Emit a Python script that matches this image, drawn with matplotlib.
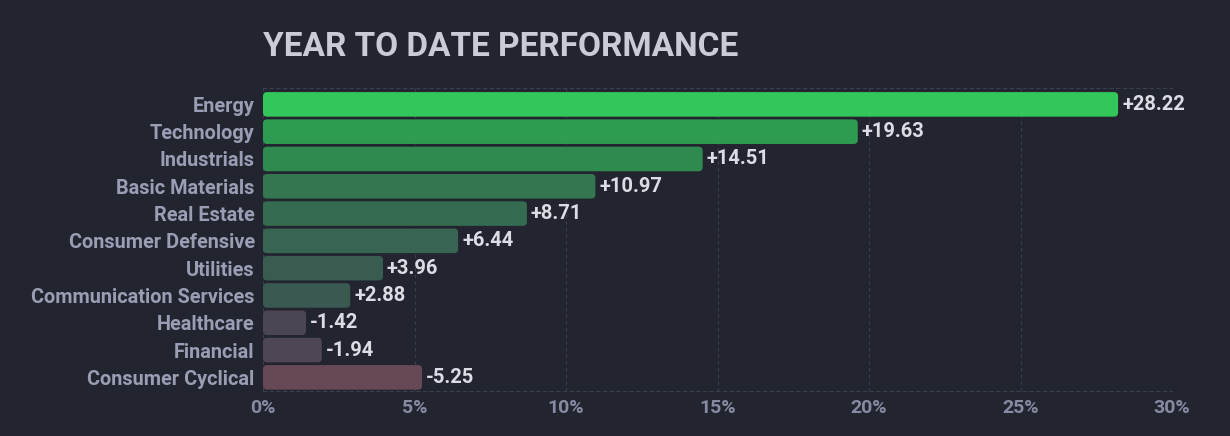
import numpy as np
import matplotlib
matplotlib.use("Agg")
import matplotlib.pyplot as plt
from matplotlib.patches import FancyBboxPatch

# Data ---------------------------------------------
sectors = ["Energy", "Technology", "Industrials", "Basic Materials", "Real Estate",
           "Consumer Defensive", "Utilities", "Communication Services",
           "Healthcare", "Financial", "Consumer Cyclical"]
ytd = [28.22, 19.63, 14.51, 10.97, 8.71, 6.44, 3.96, 2.88, -1.42, -1.94, -5.25]
bar_colors = ["#33c65a", "#2e9c50", "#2f8a4f", "#337650", "#356c51", "#386552",
              "#395c51", "#3a5a51", "#4c4552", "#4f4654", "#664857"]
xticks = [0, 5, 10, 15, 20, 25, 30]

# Style --------------------------------------------
bg = "#22252f"
grid_c = "#3b3f4d"
label_c = "#9a9db4"
value_c = "#dcdde4"
font = "Roboto"

fig = plt.figure(figsize=(12.3, 4.36), dpi=100, facecolor=bg)
ax = fig.add_axes([263/1230, 45/436, 909/1230, 303/436], facecolor=bg)

# Bars (rounded, length = absolute change) ---------
ypos = np.arange(len(sectors))
h = 0.9
for y, v, c in zip(ypos, ytd, bar_colors):
    w = abs(v)
    p = FancyBboxPatch((0, y - h/2), w, h,
                       boxstyle="round,pad=0,rounding_size=0.14",
                       mutation_aspect=1.05, fc=c, ec="none", zorder=3)
    ax.add_patch(p)
    ax.text(w + 0.13, y, f"{v:+.2f}", va="center", ha="left", color=value_c,
            fontsize=14.5, fontweight="bold", family=font, zorder=4)

# Axes ---------------------------------------------
ax.set_xlim(0, 30)
ax.set_ylim(10.5, -0.6)
ax.set_xticks(xticks)
ax.set_xticklabels([f"{t}%" for t in xticks])
ax.set_yticks(ypos)
ax.set_yticklabels(sectors)

for lab in ax.get_yticklabels():
    lab.set(color=label_c, fontsize=14.3, fontweight="bold", family=font)
for lab in ax.get_xticklabels():
    lab.set(color="#868aa2", fontsize=14, fontweight="bold", family=font)
ax.tick_params(length=0)
ax.tick_params(axis="y", pad=6)
ax.tick_params(axis="x", pad=6)

ax.grid(axis="x", color=grid_c, linestyle=(0, (3, 3)), linewidth=0.8, zorder=0)
ax.set_axisbelow(True)
for s in ["left", "right"]:
    ax.spines[s].set_visible(False)
for s in ["top", "bottom"]:
    ax.spines[s].set_color(grid_c)
    ax.spines[s].set_linestyle((0, (3, 3)))
    ax.spines[s].set_linewidth(0.8)

# Title --------------------------------------------
fig.text(263/1230, (436-56)/436, "YEAR TO DATE PERFORMANCE", color="#c9cbd6",
         fontsize=24, fontweight="bold", family=font, va="baseline", ha="left")

fig.savefig("out.png", dpi=100, facecolor=bg)
